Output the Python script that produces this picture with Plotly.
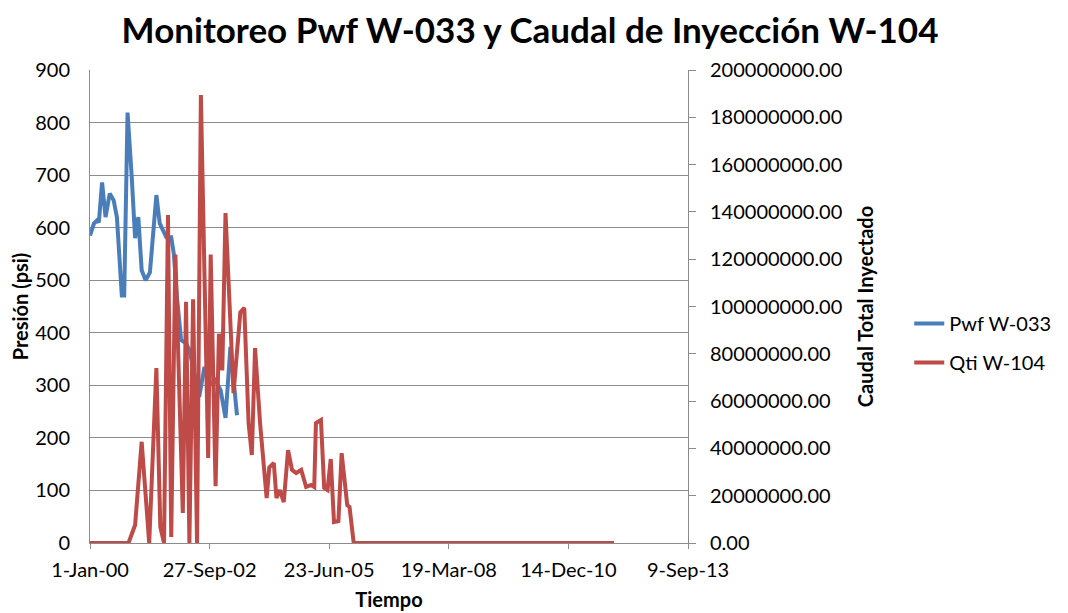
import plotly.graph_objects as go

# ---- Data ----
pwf_dates = [
    "2000-01-01", "2000-02-03", "2000-03-01", "2000-03-15", "2000-04-11", "2000-05-10",
    "2000-06-14", "2000-07-17", "2000-08-13", "2000-09-23", "2000-10-13", "2000-11-10",
    "2000-12-15", "2001-01-12", "2001-02-08", "2001-03-08", "2001-04-10", "2001-05-16",
    "2001-07-09", "2001-08-06", "2001-09-30", "2001-11-10", "2001-12-02", "2001-12-27",
    "2002-02-01", "2002-03-14", "2002-04-11", "2002-05-25", "2002-07-02", "2002-08-15",
    "2002-09-25", "2002-11-14", "2002-12-28", "2003-02-07", "2003-03-20", "2003-05-14",
]
pwf_psi = [
    585, 608, 614, 610, 686, 620,
    665, 652, 620, 471, 471, 819,
    696, 580, 620, 519, 500, 515,
    662, 608, 582, 582, 550, 470,
    386, 380, 367, 320, 278, 335,
    300, 310, 291, 238, 373, 243,
]

qti_dates = [
    "2000-01-01", "2000-11-18", "2001-01-12", "2001-03-08", "2001-05-10", "2001-07-09",
    "2001-08-11", "2001-09-11", "2001-10-14", "2001-11-10", "2001-12-15", "2002-02-15",
    "2002-03-14", "2002-04-11", "2002-05-12", "2002-06-14", "2002-07-16", "2002-09-15",
    "2002-10-06", "2002-11-16", "2002-12-14", "2003-01-11", "2003-02-07", "2003-04-15",
    "2003-06-11", "2003-07-14", "2003-08-19", "2003-09-15", "2003-10-12", "2003-11-23",
    "2004-01-17", "2004-02-08", "2004-03-17", "2004-04-08", "2004-05-06", "2004-06-08",
    "2004-07-14", "2004-08-16", "2004-09-20", "2004-11-01", "2004-12-12", "2005-01-22",
    "2005-02-18", "2005-03-04", "2005-04-15", "2005-05-12", "2005-06-09", "2005-07-06",
    "2005-08-02", "2005-09-08", "2005-10-05", "2005-11-21", "2005-12-10", "2006-01-14",
    "2011-12-30",
]
qti_millions = [
    0, 0, 7.6, 42.8, 0, 74,
    6.8, 0, 138.7, 2.5, 122, 12.7,
    102, 0, 103, 0, 189.4, 36,
    122, 24, 88.5, 73, 139.5, 63.4,
    97.5, 99.4, 50.7, 37.2, 82.4, 50.7,
    19, 32, 33.8, 19, 22.4, 17.3,
    39.3, 30.9, 29.6, 30.9, 23.7, 24.5,
    23.7, 50.7, 52, 23.3, 22.4, 35.5,
    8.9, 9.3, 38, 16, 15.2, 0,
    0,
]
qti_values = [v * 1e6 for v in qti_millions]

x_tick_dates = ["2000-01-01", "2002-09-27", "2005-06-23", "2008-03-19", "2010-12-14", "2013-09-09"]
x_tick_labels = ["1-Jan-00", "27-Sep-02", "23-Jun-05", "19-Mar-08", "14-Dec-10", "9-Sep-13"]

BLUE = "#4A7EBB"
RED = "#BE4B48"
GRID = "#8C8C8C"
FONT = "Lato, Open Sans, sans-serif"

fig = go.Figure()
fig.add_trace(go.Scatter(
    x=pwf_dates, y=pwf_psi, name="Pwf W-033", mode="lines",
    line=dict(color=BLUE, width=4), legendgroup="a",
))
fig.add_trace(go.Scatter(
    x=qti_dates, y=qti_values, name="Qti W-104", mode="lines", yaxis="y2",
    line=dict(color=RED, width=4), legendgroup="b",
))

fig.update_layout(
    width=1060, height=605,
    margin=dict(l=82, r=374, t=62, b=70),
    paper_bgcolor="white", plot_bgcolor="white",
    font=dict(family=FONT, size=20, color="black"),
    title=dict(
        text="<b>Monitoreo Pwf W-033 y Caudal de Inyección W-104</b>",
        x=0.4925, xanchor="center", y=0.963, yanchor="middle",
        font=dict(size=35, family=FONT, color="black"),
    ),
    xaxis=dict(
        type="date", range=["2000-01-01", "2013-09-09"],
        tickvals=x_tick_dates, ticktext=x_tick_labels,
        showgrid=False, showline=True, linecolor=GRID, linewidth=1,
        ticks="outside", ticklen=5, tickcolor=GRID, ticklabelstandoff=4,
        title=dict(text="<b>Tiempo</b>", font=dict(size=20), standoff=12),
        tickfont=dict(size=20), zeroline=False, automargin=False,
    ),
    yaxis=dict(
        range=[0, 900], dtick=100, tick0=0,
        showgrid=True, gridcolor=GRID, gridwidth=1,
        showline=True, linecolor=GRID, linewidth=1,
        ticks="", ticklabelstandoff=15,
        title=dict(text="<b>Presión (psi)</b>", font=dict(size=20), standoff=10),
        tickfont=dict(size=20), zeroline=False, automargin=False,
    ),
    yaxis2=dict(
        overlaying="y", side="right",
        range=[0, 200000000], dtick=20000000, tick0=0, tickformat=".2f",
        showgrid=False, showline=True, linecolor=GRID, linewidth=1,
        ticks="outside", ticklen=7, tickcolor=GRID, ticklabelstandoff=10,
        title=dict(text="<b>Caudal Total Inyectado</b>", font=dict(size=20), standoff=17),
        tickfont=dict(size=20), zeroline=False, automargin=False,
    ),
    legend=dict(
        x=1.37, xanchor="left", y=0.423, yanchor="middle",
        font=dict(size=20), tracegroupgap=10, bgcolor="rgba(0,0,0,0)",
    ),
    showlegend=True,
)

fig.write_html("out.html")
